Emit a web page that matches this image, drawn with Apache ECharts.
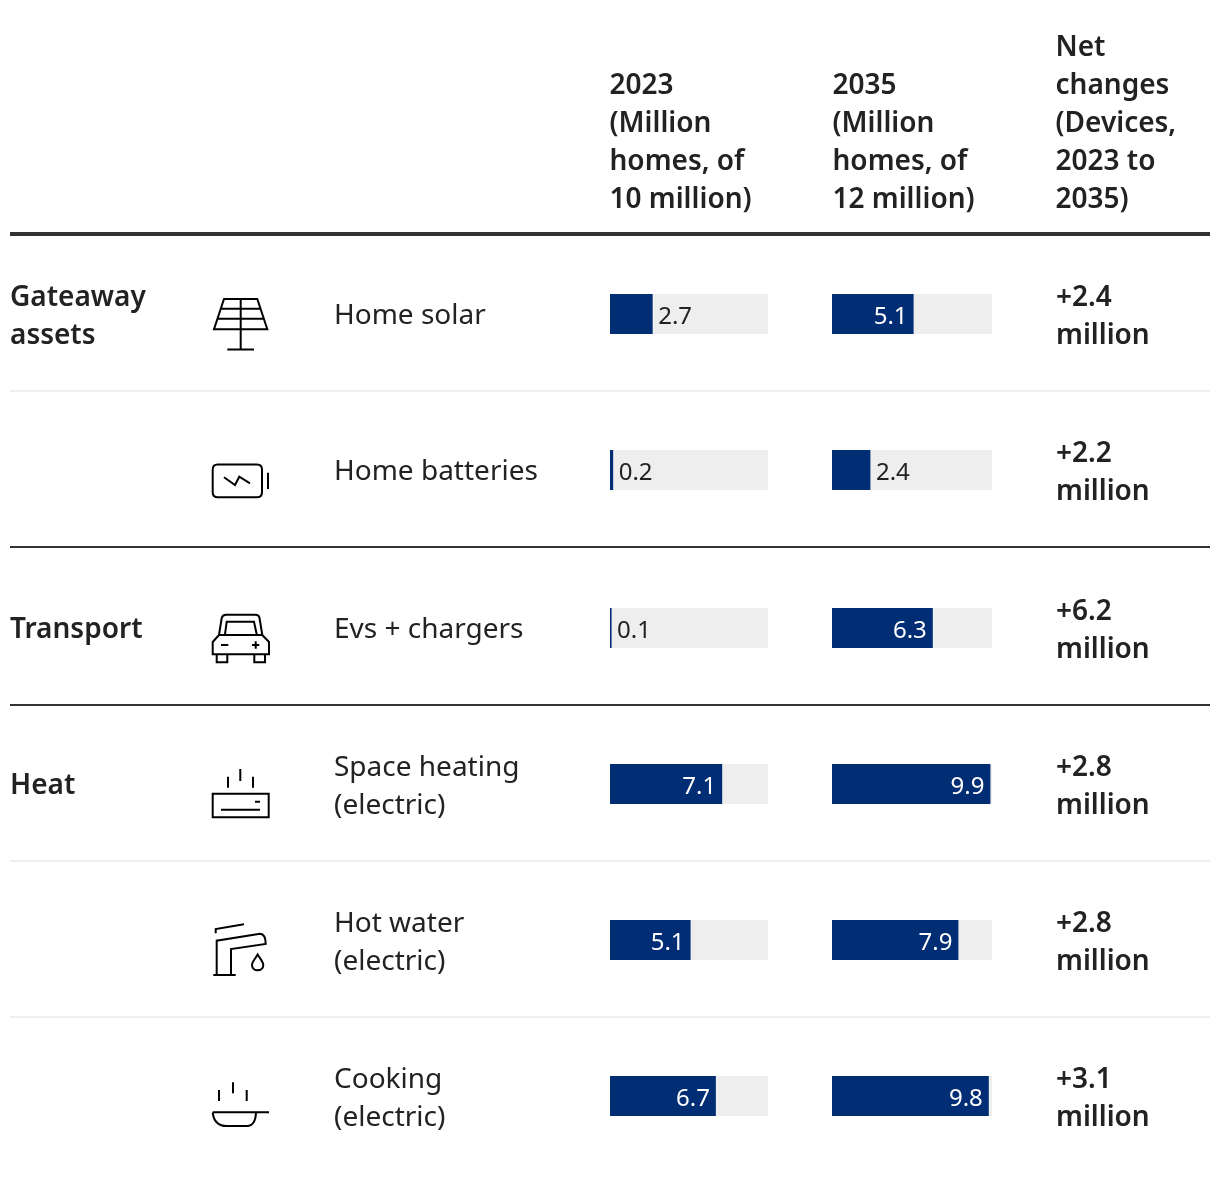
<!DOCTYPE html>
<html><head><meta charset="utf-8">
<style>html,body{margin:0;padding:0;background:#fff}#c{width:1220px;height:1182px}</style>
<script src="https://cdn.jsdelivr.net/npm/echarts@6/dist/echarts.min.js"></script>
</head><body><div id="c"></div>
<script>
const groups = ['Gateaway\nassets', '', 'Transport', 'Heat', '', ''];
const categories = ['Home solar', 'Home batteries', 'Evs + chargers', 'Space heating\n(electric)', 'Hot water\n(electric)', 'Cooking\n(electric)'];
const values2023 = [2.7, 0.2, 0.1, 7.1, 5.1, 6.7];
const values2035 = [5.1, 2.4, 6.3, 9.9, 7.9, 9.8];
const netChanges = ['+2.4\nmillion', '+2.2\nmillion', '+6.2\nmillion', '+2.8\nmillion', '+2.8\nmillion', '+3.1\nmillion'];
const headers = ['2023\n(Million\nhomes, of\n10 million)', '2035\n(Million\nhomes, of\n12 million)', 'Net\nchanges\n(Devices,\n2023 to\n2035)'];

const FONT = '"Noto Sans", sans-serif';
const INK = '#222222', NAVY = '#002d74', TRACK = '#eeeeee';
const rowY = [314, 470, 628, 784, 940, 1096];
const cols = [{ left: 610, width: 158, data: values2023 }, { left: 832, width: 160, data: values2035 }];

const grids = [], xAxes = [], yAxes = [], series = [];
cols.forEach(col => rowY.forEach((y, r) => {
  const i = grids.length;
  grids.push({ left: col.left, width: col.width, top: y - 20, height: 40 });
  xAxes.push({ gridIndex: i, type: 'value', min: 0, max: 10, show: false });
  yAxes.push({ gridIndex: i, type: 'category', data: [categories[r]], show: false });
  const v = col.data[r], outside = v < 3;
  series.push({
    type: 'bar', xAxisIndex: i, yAxisIndex: i, data: [v], barWidth: 40, silent: true, animation: false,
    itemStyle: { color: NAVY }, showBackground: true, backgroundStyle: { color: TRACK },
    label: {
      show: true, position: outside ? 'right' : 'insideRight', distance: outside ? 5.5 : 6, offset: [0, 3],
      color: outside ? INK : '#ffffff', fontFamily: FONT, fontSize: 24,
      formatter: p => p.value.toFixed(1)
    }
  });
}));

const text = (x, y, s, weight, size) => ({
  type: 'text', x, y, silent: true,
  style: { text: s, fill: INK, font: `${weight} ${size || 28}px ${FONT}`, lineHeight: 38, verticalAlign: 'middle', textAlign: 'left' }
});
const rule = (y, h, color) => ({ type: 'rect', silent: true, shape: { x: 10, y, width: 1200, height: h }, style: { fill: color } });

const icons = [
  'M224,299 H257.3 L267.3,329.3 H214 Z M220.5,308.7 H260.7 M217.3,318.7 H264 M240.7,299 V349.5 M227.3,349.5 H254',
  'M217.7,464.5 H257 Q262,464.5 262,469.5 V492.3 Q262,497.3 257,497.3 H217.7 Q212.7,497.3 212.7,492.3 V469.5 Q212.7,464.5 217.7,464.5 Z M268,472.7 V489 M224,477.3 L235,485 L239.3,476.7 L250,483.3',
  'M219,635 L221.7,618 Q222.5,614.7 226,614.7 H255 Q259,614.7 259.5,618 L262.3,635 M225,634.3 L226.7,621.7 H254 L256.7,634.3 M219,635 H262.3 L269,642 V654.3 H212.7 V642 Z M216.7,654.3 V662.3 H227.3 V654.3 M254.3,654.3 V662.3 H265 V654.3 M221,645 H228.3 M252,645 H259.3 M255.7,641.3 V648.7',
  'M228,776.7 V787.7 M240.3,769 V781 M253,776.7 V787.7 M212.7,793.7 H268.7 V817.3 H212.7 Z M221,809.7 H260 M255,801.7 H260',
  'M215.7,933.3 V929 L244,924.3 M216.7,974.3 V940.7 L260,933.7 Q265.7,934 265.7,944 L231,949 V974.3 M213.3,975 H235.7 M257.7,954.5 C255,959 252,962 252,965 C252,972 263.3,972 263.3,965 C263.3,962 260.3,959 257.7,954.5 Z',
  'M219,1090 V1101 M233,1082.3 V1093.3 M246.7,1090 V1101 M212.7,1112.3 H269 M212.7,1112.3 Q214,1126 227,1126 H247 Q255.5,1126 256,1112.3'
];
icons.forEach((d, i) => echarts.graphic.registerShape('rowIcon' + i, echarts.graphic.extendPath(d, {})));
const glyph = i => ({ type: 'rowIcon' + i, silent: true, style: { fill: 'none', stroke: '#000', lineWidth: 2, lineJoin: 'miter' } });

const groupY = [314, 0, 627, 783];
const graphics = [
  rule(232, 4, '#333333'), rule(390, 2, '#eeeeee'), rule(546, 2, '#333333'),
  rule(704, 2, '#333333'), rule(860, 2, '#eeeeee'), rule(1016, 2, '#eeeeee'),
  text(609.5, 143, headers[0], 600), text(832.5, 143, headers[1], 600), text(1055.5, 124, headers[2], 600)
];
rowY.forEach((y, r) => {
  if (groups[r]) graphics.push(text(10, groupY[r] + 3, groups[r], 600));
  graphics.push(text(334, y + (categories[r].includes('\n') ? 3 : 2), categories[r], 400));
  graphics.push(text(1056, y + 3, netChanges[r], 600));
  graphics.push(glyph(r));
});

const chart = echarts.init(document.getElementById('c'), null, { renderer: 'canvas' });
chart.setOption({
  backgroundColor: '#ffffff', animation: false,
  grid: grids, xAxis: xAxes, yAxis: yAxes, series, graphic: { elements: graphics }
});
</script></body></html>
